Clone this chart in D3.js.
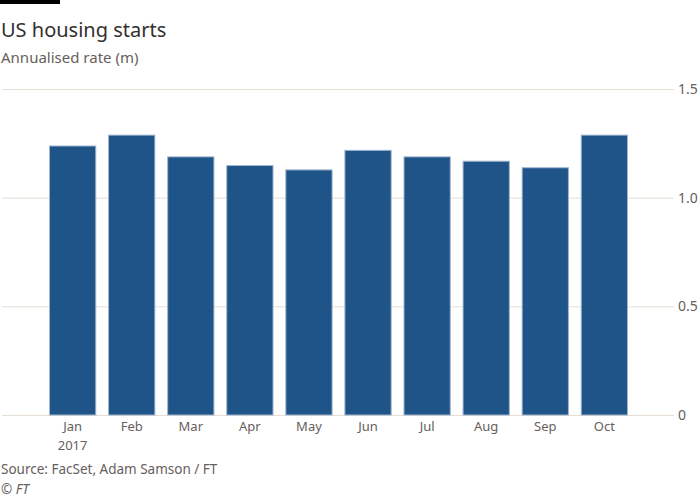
<!DOCTYPE html>
<html>
<head>
<meta charset="utf-8">
<script src="https://cdn.jsdelivr.net/npm/d3@7"></script>
<style>
  body { margin: 0; background: #fff; }
  text { font-family: "Noto Sans", "Open Sans", sans-serif; }
</style>
</head>
<body>
<div id="chart"></div>
<script>
/* Data */
var months = ["Jan", "Feb", "Mar", "Apr", "May", "Jun", "Jul", "Aug", "Sep", "Oct"],
    starts = [1.24, 1.29, 1.19, 1.15, 1.13, 1.22, 1.19, 1.17, 1.14, 1.29],
    yTicks = [0, 0.5, 1.0, 1.5],
    yTickLabels = ["0", "0.5", "1.0", "1.5"];

/* Settings */
var width = 700,
    height = 500,
    barColor = "#1f5488",
    gridColor = "#e6ddd4",
    textColor = "#66605c";

var svg = d3.select("#chart").append("svg")
    .attr("width", width)
    .attr("height", height)
    .attr("viewBox", "0 0 " + width + " " + height);

var x = d3.scaleBand()
    .domain(months)
    .range([49, 628])
    .paddingInner(0.2)
    .paddingOuter(0);

var y = d3.scaleLinear()
    .domain([0, 1.5])
    .range([415, 89]);

/* Header */
svg.append("rect")
  .attr("x", 0).attr("y", 0)
  .attr("width", 60).attr("height", 4)
  .attr("fill", "#000");

svg.append("text")
  .attr("x", 1).attr("y", 37)
  .attr("font-size", 20)
  .attr("fill", "#33302e")
  .text("US housing starts");

svg.append("text")
  .attr("x", 1).attr("y", 63)
  .attr("font-size", 15)
  .attr("fill", textColor)
  .text("Annualised rate (m)");

/* Gridlines + right axis */
var yAxis = d3.axisRight(y)
    .tickValues(yTicks)
    .tickFormat(function(d, i) { return yTickLabels[i]; })
    .tickSize(672)
    .tickPadding(4);

var gy = svg.append("g")
  .attr("transform", "translate(2,0)")
  .call(yAxis);
gy.select(".domain").remove();
gy.selectAll("line").attr("stroke", gridColor);
gy.selectAll("text")
  .attr("font-size", 14)
  .attr("fill", textColor)
  .attr("font-family", "Noto Sans, Open Sans, sans-serif");

/* Bars */
svg.append("g").selectAll("rect")
  .data(starts)
  .join("rect")
  .attr("x", function(d, i) { return x(months[i]) + 0.5; })
  .attr("y", function(d) { return y(d) + 0.5; })
  .attr("width", x.bandwidth() - 1)
  .attr("height", function(d) { return y(0) - y(d) - 0.5; })
  .attr("fill", barColor)
  .attr("stroke", "#9db5cf")
  .attr("stroke-width", 1);

/* x labels */
var gx = svg.append("g")
  .attr("transform", "translate(0," + y(0) + ")")
  .call(d3.axisBottom(x).tickSize(0).tickPadding(3));
gx.select(".domain").remove();
gx.selectAll("text")
  .attr("font-size", 13)
  .attr("fill", textColor)
  .attr("font-family", "Noto Sans, Open Sans, sans-serif")
  .attr("dy", "1em");

svg.append("text")
  .attr("x", x("Jan") + x.bandwidth() / 2)
  .attr("y", 450)
  .attr("text-anchor", "middle")
  .attr("font-size", 13)
  .attr("fill", textColor)
  .text("2017");

/* Footer */
svg.append("text")
  .attr("x", 1).attr("y", 474)
  .attr("font-size", 13.5)
  .attr("fill", textColor)
  .text("Source: FacSet, Adam Samson / FT");

svg.append("text")
  .attr("x", 1).attr("y", 494)
  .attr("font-size", 13.5)
  .attr("font-style", "italic")
  .attr("fill", textColor)
  .text("© FT");
</script>
</body>
</html>
